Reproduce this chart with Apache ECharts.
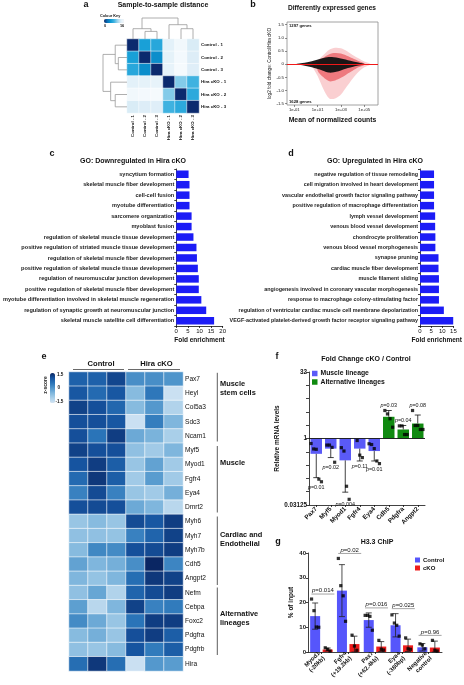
<!DOCTYPE html>
<html><head><meta charset="utf-8">
<script src="https://cdn.jsdelivr.net/npm/echarts@6/dist/echarts.min.js"></script>
<style>html,body{margin:0;padding:0;background:#fff}#c{width:464px;height:685px}</style>
</head><body><div id="c"></div>
<script>
// ---------------- DATA ----------------
// a: sample-to-sample distance
const samples = ['Control - 1','Control - 2','Control - 3','Hira cKO - 1','Hira cKO - 2','Hira cKO - 3'];
const sampleDist = [
  [0, 6.0, 6.8, 14.0, 15.4, 13.2],
  [6.0, 0, 4.6, 14.2, 15.6, 13.4],
  [6.8, 4.6, 0, 14.4, 15.8, 13.6],
  [14.0, 14.2, 14.4, 0, 10.0, 8.0],
  [15.4, 15.6, 15.8, 10.0, 0, 7.0],
  [13.2, 13.4, 13.6, 8.0, 7.0, 0]
];
// dendrogram merges: [nodeA, nodeB, height]; leaves 0-5, merged nodes numbered from 6
const dendroMerges = [[1, 2, 7.6], [0, 6, 10.3], [4, 5, 10.3], [3, 8, 14.3], [7, 9, 21]];
const distKeyTicks = ['0', '16'];

// b: MA plot (x = log10 mean of normalized counts)
const maBlackX = [-0.9, -0.3, 0.5, 1.4, 1.95, 2.4, 2.8, 3.6, 4.5, 5.1];
const maBlackUp = [0, 0.04, 0.11, 0.22, 0.27, 0.26, 0.23, 0.15, 0.06, 0];
const maBlackLo = [0, -0.04, -0.12, -0.24, -0.32, -0.31, -0.27, -0.15, -0.05, 0];
const maRedOuterX = [0.5, 1.0, 1.5, 2.0, 2.5, 3.0, 3.5, 4.0, 4.5, 5.0, 5.5];
const maRedOuterUp = [0.03, 0.15, 0.35, 0.55, 0.62, 0.6, 0.5, 0.35, 0.22, 0.1, 0.02];
const maRedOuterLo = [-0.05, -0.45, -0.95, -1.3, -1.3, -1.15, -0.85, -0.55, -0.3, -0.12, -0.02];
const maRedInnerX = [1.0, 1.5, 2.0, 2.5, 3.0, 3.5, 4.0, 4.5, 5.0];
const maRedInnerUp = [0.08, 0.25, 0.38, 0.42, 0.40, 0.32, 0.22, 0.12, 0.03];
const maRedInnerLo = [-0.25, -0.5, -0.65, -0.62, -0.52, -0.38, -0.25, -0.12, -0.03];
const maXTicks = [-1, 1, 3, 5];
const maYTicks = [-1.5, -1, -0.5, 0, 0.5, 1, 1.5];
const upGenesCount = '1297 genes';
const downGenesCount = '1628 genes';

// c: GO downregulated
const goDownTerms = ['syncytium formation','skeletal muscle fiber development','cell-cell fusion','myotube differentiation','sarcomere organization','myoblast fusion','regulation of skeletal muscle tissue development','positive regulation of striated muscle tissue development','regulation of skeletal muscle fiber development','positive regulation of skeletal muscle tissue development','regulation of neuromuscular junction development','positive regulation of skeletal muscle fiber development','myotube differentiation involved in skeletal muscle regeneration','regulation of synaptic growth at neuromuscular junction','skeletal muscle satellite cell differentiation'];
const goDownFold = [5.3, 5.7, 5.7, 5.7, 6.6, 6.6, 7.4, 8.7, 8.9, 9.3, 9.7, 9.7, 10.8, 12.9, 16.3];

// d: GO upregulated
const goUpTerms = ['negative regulation of tissue remodeling','cell migration involved in heart development','vascular endothelial growth factor signaling pathway','positive regulation of macrophage differentiation','lymph vessel development','venous blood vessel development','chondrocyte proliferation','venous blood vessel morphogenesis','synapse pruning','cardiac muscle fiber development','muscle filament sliding','angiogenesis involved in coronary vascular morphogenesis','response to macrophage colony-stimulating factor','regulation of ventricular cardiac muscle cell membrane depolarization','VEGF-activated platelet-derived growth factor receptor signaling pathway'];
const goUpFold = [6.3, 6.3, 6.3, 6.3, 6.8, 6.8, 6.9, 6.9, 8.3, 8.3, 8.5, 8.5, 8.5, 10.7, 14.9];

// e: z-score heatmap
const heatGenes = ['Pax7','Heyl','Col5a3','Sdc3','Ncam1','Myf5','Myod1','Fgfr4','Eya4','Dmrt2','Myh6','Myh7','Myh7b','Cdh5','Angpt2','Nefm','Cebpa','Foxc2','Pdgfra','Pdgfrb','Hira'];
const heatZ = [
  [0.8, 0.8, 1.15, 0.1, 0.1, 0.0],
  [0.95, 0.65, 0.95, -0.6, 0.45, -1.4],
  [1.2, 1.05, 0.7, -0.6, -0.05, -1.1],
  [1.05, 1.05, 0.95, -1.4, 0.35, -0.5],
  [1.05, 0.5, 1.25, -0.3, -0.45, -1.0],
  [1.2, 1.05, 1.05, -0.7, -0.9, -0.5],
  [1.0, 1.25, 0.85, -0.8, -0.2, -0.9],
  [0.65, 1.3, 0.85, -0.9, -0.1, -0.9],
  [0.3, 1.1, 0.3, -0.8, -0.9, -0.4],
  [1.05, 1.1, 1.05, -0.3, -0.5, -1.2],
  [-0.8, -0.6, -0.8, 1.1, 0.95, 1.25],
  [-0.7, -0.7, -0.75, 0.3, 0.75, 1.2],
  [-0.6, 0.2, 0.15, 1.05, 1.1, 1.25],
  [-0.2, -0.5, -0.4, 0.1, 1.5, 0.25],
  [-0.5, -0.75, -0.5, 0.6, 1.3, 1.2],
  [-0.7, -0.25, -1.1, 0.75, 1.1, 1.25],
  [-0.15, -1.2, -0.5, 1.2, 0.3, 0.4],
  [0.15, -0.3, -0.8, 0.5, 1.25, 1.25],
  [-0.6, -0.4, -0.8, 1.05, 1.25, 0.85],
  [-0.7, -0.8, -0.6, 1.0, 0.4, 0.85],
  [0.6, 1.3, 0.6, -1.4, -0.05, -0.1]
];
const heatGroups = ['Control', 'Hira cKO'];

// f: qPCR fold change cKO / Control
const qpcrGenes = ['Pax7','Myf5','Myod1','Fgfr4','Eya4','Cdh5','Pdgfra','Angpt2'];
const qpcrLineage = ['Muscle','Muscle','Muscle','Muscle','Muscle','Alt','Alt','Alt'];
const qpcrFold = [0.45, 0.59, 0.32, 0.59, 0.52, 3.1, 1.6, 2.18];
const qpcrErrEnd = [0.13, 0.37, 0.061, 0.31, 0.31, 4.3, 1.97, 3.4];
const qpcrPoints = [[0.77, 0.58, 0.57, 0.12, 0.105], [0.71, 0.71, 0.63, 0.29], [0.62, 0.52, 0.083, 0.042], [0.9, 0.42, 0.37], [0.76, 0.73, 0.59, 0.31, 0.27], [4.3, 3.6, 2.8, 1.8], [1.93, 1.93, 1.23, 1.23], [4.3, 1.97, 1.97, 1.6, 1.6]];
const qpcrP = ['0.01', '0.02', '0.004', '0.11', '0.01', '0.03', '0.04', '0.08'];

// g: H3.3 ChIP
const chipRegions = ['Myod1\n(-20kb)', 'Fgfr4\n(+19.2kb)', 'Pax7\n(+62.4kb)', 'Eya4\n(-380bp)', 'Negative\ncontrol'];
const chipControl = [14.5, 24.8, 12.9, 10.8, 1.9];
const chipCKO = [1.0, 3.2, 2.2, 2.7, 1.8];
const chipControlSD = [5.3, 10.5, 2.9, 4.7, 1.5];
const chipCKOSD = [0.6, 3.2, 2.0, 2.5, 2.6];
const chipControlPts = [[21.4, 16.7, 10.1, 10.0], [37.8, 26.8, 22.7, 12.4], [14.8, 14.8, 14.4, 8.8], [15.0, 11.7, 10.8, 6.4], [3.3, 2.8, 1.3]];
const chipCKOPts = [[1.7, 1.1, 0.4], [6.8, 2.4, 0.7], [4.7, 1.1, 0.8], [5.7, 1.3, 1.1], [4.7, 0.7, 0.4]];
const chipP = ['0.014', '0.02', '0.016', '0.025', '0.96'];

// ---------------- CHART ----------------
const FONT = '"Liberation Sans", Arial, sans-serif';
const chart = echarts.init(document.getElementById('c'), null, {renderer: 'canvas', width: 464, height: 685});

const BLUE_GO = '#1c1cf6', BLUE_M = '#5a5af7', GREEN = '#108a10', RED = '#ee1c1c';

// dendrogram geometry derived from merges
const nodePos = samples.map((_, i) => i + 0.5);
const nodeH = samples.map(() => 0);
dendroMerges.forEach(([a, b, h]) => { nodePos.push((nodePos[a] + nodePos[b]) / 2); nodeH.push(h); });
const dendroData = dendroMerges.map(([a, b, h]) => [nodePos[a], nodePos[b], h, nodeH[a], nodeH[b]]);
function dendroSeries(idx, vertical) {
  return {
    type: 'custom', xAxisIndex: idx, yAxisIndex: idx, silent: true, data: dendroData,
    renderItem: (p, api) => {
      const pa = api.value(0), pb = api.value(1), h = api.value(2), ha = api.value(3), hb = api.value(4);
      const c = vertical ? (pos, hh) => api.coord([pos, hh]) : (pos, hh) => api.coord([hh, pos]);
      return {type: 'polyline', shape: {points: [c(pa, ha), c(pa, h), c(pb, h), c(pb, hb)]},
        style: {stroke: '#9a9a9a', lineWidth: 0.8, fill: null}};
    }
  };
}
function bandSeries(xs, up, lo, color, opacity) {
  return {
    type: 'custom', xAxisIndex: 3, yAxisIndex: 3, silent: true, clip: true, data: [[xs[0], 0]],
    renderItem: (p, api) => {
      const pts = [];
      for (let i = 0; i < xs.length; i++) pts.push(api.coord([xs[i], up[i]]));
      for (let i = xs.length - 1; i >= 0; i--) pts.push(api.coord([xs[i], lo[i]]));
      return {type: 'polygon', shape: {points: pts, smooth: 0.3}, style: {fill: color, opacity: opacity}};
    }
  };
}
const txtStyle = (extra) => Object.assign({fontFamily: FONT, fill: '#111', align: 'center', verticalAlign: 'middle',
  textAlign: 'center', textVerticalAlign: 'middle'}, extra);
function T(text, x, y, size, weight, extra) {
  return {type: 'text', x: x, y: y, silent: true, z: 10,
    style: txtStyle(Object.assign({text: text, fontSize: size, fontWeight: weight || 'normal'}, extra || {}))};
}
function L(x1, y1, x2, y2, color, w) {
  return {type: 'line', silent: true, shape: {x1, y1, x2, y2}, style: {stroke: color || '#333', lineWidth: w || 0.8}};
}

const axisBlack = {show: true, onZero: false, lineStyle: {color: '#111', width: 0.8}};
const tickBlack = {show: true, length: 2, lineStyle: {color: '#111', width: 0.8}};

// heat data
const distData = [];
sampleDist.forEach((row, r) => row.forEach((v, c) => distData.push([c, r, v])));
const zData = [];
heatZ.forEach((row, r) => row.forEach((v, c) => zData.push([c, r, v])));

// f helpers
const fMuscle = qpcrFold.map((v, i) => qpcrLineage[i] === 'Muscle' ? v : '-');
const fAlt = qpcrFold.map((v, i) => qpcrLineage[i] === 'Alt' ? v : '-');
const fPts = [];
qpcrPoints.forEach((arr, i) => arr.forEach((v, j) => fPts.push({value: [i, v], symbolOffset: [(j - (arr.length - 1) / 2) * 2.6, 0]})));

// g helpers
const SIDE = 6.25;
const gPts = [];
chipControlPts.forEach((arr, i) => arr.forEach((v, j) => gPts.push({value: [i, v], symbolOffset: [-SIDE + (j - (arr.length - 1) / 2) * 2.4, 0]})));
chipCKOPts.forEach((arr, i) => arr.forEach((v, j) => gPts.push({value: [i, v], symbolOffset: [SIDE + (j - (arr.length - 1) / 2) * 2.4, 0]})));
const gErr = [];
chipControl.forEach((v, i) => gErr.push([i, v, chipControlSD[i], -SIDE]));
chipCKO.forEach((v, i) => gErr.push([i, v, chipCKOSD[i], SIDE]));

const pRich = (size) => ({i: {fontStyle: 'italic', fontSize: size, fontFamily: FONT, fill: '#111'}});

const option = {
  animation: false,
  textStyle: {fontFamily: FONT},
  grid: [
    {left: 127, top: 39, width: 72, height: 74},
    {left: 127, top: 18, width: 72, height: 21},
    {left: 103, top: 39, width: 24, height: 74},
    {left: 287, top: 22, width: 91, height: 83, show: true, borderColor: '#8a8a8a', borderWidth: 0.8},
    {left: 172, top: 169, width: 50.7, height: 157},
    {left: 420, top: 169, width: 37.3, height: 157},
    {left: 69, top: 372, width: 114, height: 299},
    {left: 309, top: 372, width: 116, height: 133},
    {left: 308, top: 553, width: 134, height: 99}
  ],
  xAxis: [
    {gridIndex: 0, type: 'category', data: samples, axisLine: {show: false}, axisTick: {show: false},
      axisLabel: {rotate: 90, fontSize: 4.4, fontWeight: 'bold', margin: 2, color: '#111'}},
    {gridIndex: 1, type: 'value', min: 0, max: 6, show: false},
    {gridIndex: 2, type: 'value', min: 0, max: 21, inverse: true, show: false},
    {gridIndex: 3, type: 'value', min: -1.63, max: 6.18, axisLine: {show: false, onZero: false}, splitLine: {show: false},
      axisTick: {show: true, length: 2, customValues: maXTicks, lineStyle: {color: '#444', width: 0.6}},
      axisLabel: {customValues: maXTicks, fontSize: 4.2, margin: 3, color: '#222',
        formatter: v => '1e' + (v < 0 ? '-' : '+') + String(Math.abs(v)).padStart(2, '0')},
      name: 'Mean of normalized counts', nameLocation: 'middle', nameGap: 12,
      nameTextStyle: {fontSize: 6.8, fontWeight: 'bold', color: '#111'}},
    {gridIndex: 4, type: 'value', min: 0, max: 20, interval: 5, axisLine: axisBlack, axisTick: tickBlack, splitLine: {show: false},
      axisLabel: {fontSize: 6, margin: 2, color: '#111'},
      name: 'Fold enrichment', nameLocation: 'middle', nameGap: 11, nameTextStyle: {fontSize: 6.5, fontWeight: 'bold', color: '#111'}},
    {gridIndex: 5, type: 'value', min: 0, max: 15, interval: 5, axisLine: axisBlack, axisTick: tickBlack, splitLine: {show: false},
      axisLabel: {fontSize: 6, margin: 2, color: '#111'},
      name: 'Fold enrichment', nameLocation: 'middle', nameGap: 11, nameTextStyle: {fontSize: 6.5, fontWeight: 'bold', color: '#111'}},
    {gridIndex: 6, type: 'category', data: [0, 1, 2, 3, 4, 5], show: false},
    {gridIndex: 7, type: 'category', data: qpcrGenes, axisLine: axisBlack,
      axisTick: {show: true, length: 2, alignWithLabel: true, lineStyle: {color: '#111', width: 0.8}},
      axisLabel: {rotate: 45, fontSize: 6.3, fontWeight: 'bold', margin: 3, color: '#111'}},
    {gridIndex: 8, type: 'category', data: chipRegions, axisLine: axisBlack,
      axisTick: {show: true, length: 2, alignWithLabel: true, lineStyle: {color: '#111', width: 0.8}},
      axisLabel: {rotate: 45, fontSize: 6, fontWeight: 'bold', margin: 3, color: '#111', lineHeight: 7}}
  ],
  yAxis: [
    {gridIndex: 0, type: 'category', data: samples, inverse: true, position: 'right', axisLine: {show: false}, axisTick: {show: false},
      axisLabel: {fontSize: 4.4, fontWeight: 'bold', margin: 2, color: '#111'}},
    {gridIndex: 1, type: 'value', min: 0, max: 21, show: false},
    {gridIndex: 2, type: 'value', min: 0, max: 6, inverse: true, show: false},
    {gridIndex: 3, type: 'value', min: -1.55, max: 1.6, axisLine: {show: false, onZero: false}, splitLine: {show: false},
      axisTick: {show: true, length: 2, customValues: maYTicks, lineStyle: {color: '#444', width: 0.6}},
      axisLabel: {customValues: maYTicks, fontSize: 4.4, margin: 3, color: '#222', formatter: v => v === 0 ? '0' : v.toFixed(1)},
      name: 'log2 fold change: Control/Hira cKO', nameLocation: 'middle', nameGap: 11,
      nameTextStyle: {fontSize: 4.6, color: '#111'}},
    {gridIndex: 4, type: 'category', data: goDownTerms, inverse: true, axisLine: axisBlack, axisTick: tickBlack,
      axisLabel: {fontSize: 5.6, fontWeight: 'bold', margin: 2, color: '#222'}},
    {gridIndex: 5, type: 'category', data: goUpTerms, inverse: true, axisLine: axisBlack, axisTick: tickBlack,
      axisLabel: {fontSize: 5.4, fontWeight: 'bold', margin: 2, color: '#222'}},
    {gridIndex: 6, type: 'category', data: heatGenes, inverse: true, position: 'right', axisLine: {show: false}, axisTick: {show: false},
      axisLabel: {fontSize: 6.6, margin: 2, color: '#111'}},
    {gridIndex: 7, type: 'log', logBase: 2, min: 1 / 32, max: 32, interval: 1, axisLine: axisBlack,
      axisTick: {show: true, length: 3, lineStyle: {color: '#111', width: 0.8}}, splitLine: {show: false},
      axisLabel: {fontSize: 6.3, fontWeight: 'bold', margin: 2, color: '#111', showMinLabel: true, showMaxLabel: true,
        formatter: v => Math.abs(v - 32) < 1e-6 ? '32' : Math.abs(v - 1) < 1e-9 ? '1' : Math.abs(v - 0.03125) < 1e-9 ? '0.03125' : ''},
      name: 'Relative mRNA levels', nameLocation: 'middle', nameGap: 15, nameTextStyle: {fontSize: 6.5, fontWeight: 'bold', color: '#111'}},
    {gridIndex: 8, type: 'value', min: 0, max: 40, interval: 10, axisLine: axisBlack, axisTick: tickBlack, splitLine: {show: false},
      axisLabel: {fontSize: 6, fontWeight: 'bold', margin: 2, color: '#111'},
      name: '% of input', nameLocation: 'middle', nameGap: 13, nameTextStyle: {fontSize: 6.5, fontWeight: 'bold', color: '#111'}}
  ],
  visualMap: [
    {type: 'continuous', seriesIndex: 0, min: 0, max: 16, orient: 'horizontal', left: 104, top: 19, itemWidth: 4, itemHeight: 20,
      padding: 0, calculable: false, hoverLink: false, showLabel: false,
      inRange: {color: ['#0b2a6e', '#0a6fb5', '#0c9ad4', '#3fb2e0', '#9ad3ec', '#dcedf7', '#f7fbfe']}},
    {type: 'continuous', seriesIndex: 8, min: -1.5, max: 1.5, orient: 'vertical', left: 50, top: 373, itemWidth: 5, itemHeight: 30,
      padding: 0, calculable: false, hoverLink: false,
      inRange: {color: ['#d2e4f4', '#a9cfe9', '#7fb6dd', '#4f95cb', '#2a74b8', '#1654a0', '#0a2663']}}
  ],
  legend: [
    {left: 312, top: 370, orient: 'vertical', itemWidth: 5.5, itemHeight: 5.5, itemGap: 1.5, icon: 'rect', padding: 0,
      textStyle: {fontSize: 6.8, fontWeight: 'bold', color: '#111', padding: [0, 0, 0, -2]}, data: ['Muscle lineage', 'Alternative lineages']},
    {left: 415, top: 557, orient: 'vertical', itemWidth: 5, itemHeight: 5, itemGap: 2, icon: 'rect', padding: 0,
      textStyle: {fontSize: 6, fontWeight: 'bold', color: '#111', padding: [0, 0, 0, -2]}, data: ['Control', 'cKO']}
  ],
  series: [
    // 0 a heat
    {type: 'heatmap', xAxisIndex: 0, yAxisIndex: 0, data: distData, silent: true, itemStyle: {borderColor: '#fff', borderWidth: 0.5}},
    // 1,2 dendrograms
    dendroSeries(1, true),
    dendroSeries(2, false),
    // 3,4,5 MA plot
    bandSeries(maRedOuterX, maRedOuterUp, maRedOuterLo, '#e8242c', 0.22),
    bandSeries(maRedInnerX, maRedInnerUp, maRedInnerLo, '#e3242b', 0.5),
    Object.assign(bandSeries(maBlackX, maBlackUp, maBlackLo, '#111', 0.95), {
      markLine: {silent: true, symbol: 'none', label: {show: false}, lineStyle: {color: '#f01818', width: 1, type: 'solid'},
        data: [{yAxis: 0}]}}),
    // 6 c
    {type: 'bar', xAxisIndex: 4, yAxisIndex: 4, data: goDownFold, barWidth: 7.5, itemStyle: {color: BLUE_GO}, silent: true},
    // 7 d
    {type: 'bar', xAxisIndex: 5, yAxisIndex: 5, data: goUpFold, barWidth: 7.5, itemStyle: {color: BLUE_GO}, silent: true},
    // 8 e heat
    {type: 'heatmap', xAxisIndex: 6, yAxisIndex: 6, data: zData, silent: true, itemStyle: {borderColor: '#fff', borderWidth: 0.6}},
    // 9,10 f bars
    {name: 'Muscle lineage', type: 'bar', xAxisIndex: 7, yAxisIndex: 7, data: fMuscle, barWidth: 11.5, barGap: '-100%',
      itemStyle: {color: BLUE_M}, silent: true,
      markLine: {silent: true, symbol: 'none', label: {show: false}, lineStyle: {color: '#111', width: 0.9, type: 'solid'}, data: [{yAxis: 1}]}},
    {name: 'Alternative lineages', type: 'bar', xAxisIndex: 7, yAxisIndex: 7, data: fAlt, barWidth: 11.5, barGap: '-100%',
      itemStyle: {color: GREEN}, silent: true},
    // 11 f error bars
    {type: 'custom', xAxisIndex: 7, yAxisIndex: 7, silent: true, z: 3,
      data: qpcrFold.map((v, i) => [i, v, qpcrErrEnd[i]]),
      renderItem: (p, api) => {
        const a = api.coord([api.value(0), api.value(1)]), b = api.coord([api.value(0), api.value(2)]);
        return {type: 'group', children: [
          {type: 'line', shape: {x1: a[0], y1: a[1], x2: b[0], y2: b[1]}, style: {stroke: '#111', lineWidth: 0.8}},
          {type: 'line', shape: {x1: b[0] - 3, y1: b[1], x2: b[0] + 3, y2: b[1]}, style: {stroke: '#111', lineWidth: 0.8}}]};
      }},
    // 12 f points
    {type: 'scatter', xAxisIndex: 7, yAxisIndex: 7, data: fPts, symbol: 'rect', symbolSize: 3.2, itemStyle: {color: '#000'}, silent: true, z: 4},
    // 13 f p-values
    {type: 'custom', xAxisIndex: 7, yAxisIndex: 7, silent: true, z: 5,
      data: qpcrFold.map((v, i) => {
        const all = qpcrPoints[i].concat([qpcrErrEnd[i]]);
        return [i, v < 1 ? Math.min.apply(null, all) : Math.max.apply(null, all), v < 1 ? 1 : 0];
      }),
      renderItem: (p, api) => {
        const c = api.coord([api.value(0), api.value(1)]);
        const down = api.value(2) === 1;
        return {type: 'text', x: c[0], y: c[1] + (down ? 5.5 : -5), style: txtStyle({
          text: '{i|p}=' + qpcrP[p.dataIndex], fontSize: 5.4, rich: pRich(5.4)})};
      }},
    // 14,15 g bars
    {name: 'Control', type: 'bar', xAxisIndex: 8, yAxisIndex: 8, data: chipControl, barWidth: 10, barGap: '25%', itemStyle: {color: '#5656fb'}, silent: true},
    {name: 'cKO', type: 'bar', xAxisIndex: 8, yAxisIndex: 8, data: chipCKO, barWidth: 10, barGap: '25%', itemStyle: {color: RED}, silent: true},
    // 16 g error bars
    {type: 'custom', xAxisIndex: 8, yAxisIndex: 8, silent: true, z: 3, data: gErr,
      renderItem: (p, api) => {
        const i = api.value(0), m = api.value(1), sd = api.value(2), off = api.value(3);
        const t = api.coord([i, m + sd]), b = api.coord([i, Math.max(0, m - sd)]);
        const x = t[0] + off;
        return {type: 'group', children: [
          {type: 'line', shape: {x1: x, y1: t[1], x2: x, y2: b[1]}, style: {stroke: '#222', lineWidth: 0.8}},
          {type: 'line', shape: {x1: x - 3, y1: t[1], x2: x + 3, y2: t[1]}, style: {stroke: '#222', lineWidth: 0.8}},
          {type: 'line', shape: {x1: x - 3, y1: b[1], x2: x + 3, y2: b[1]}, style: {stroke: '#222', lineWidth: 0.8}}]};
      }},
    // 17 g points
    {type: 'scatter', xAxisIndex: 8, yAxisIndex: 8, data: gPts, symbol: 'rect', symbolSize: 3.2, itemStyle: {color: '#000'}, silent: true, z: 4},
    // 18 g p-value brackets
    {type: 'custom', xAxisIndex: 8, yAxisIndex: 8, silent: true, z: 5,
      data: chipControl.map((v, i) => [i, Math.max(v + chipControlSD[i], chipCKO[i] + chipCKOSD[i],
        Math.max.apply(null, chipControlPts[i]), Math.max.apply(null, chipCKOPts[i]))]),
      renderItem: (p, api) => {
        const c = api.coord([api.value(0), api.value(1)]);
        const y = c[1] - 5;
        return {type: 'group', children: [
          {type: 'line', shape: {x1: c[0] - 10, y1: y, x2: c[0] + 13, y2: y}, style: {stroke: '#9a9a9a', lineWidth: 0.9}},
          {type: 'text', x: c[0] + 1.5, y: y - 3.5, style: txtStyle({text: '{i|p}=' + chipP[p.dataIndex], fontSize: 6, rich: pRich(6)})}]};
      }}
  ],
  graphic: [
    // panel letters
    T('a', 86, 5, 9, 'bold'), T('b', 253, 5, 9, 'bold'), T('c', 52, 154, 9, 'bold'), T('d', 291, 154, 9, 'bold'),
    T('e', 44, 357, 9, 'bold'), T('f', 277, 357, 9, 'bold'), T('g', 278, 542, 9, 'bold'),
    // titles
    T('Sample-to-sample distance', 163, 5.5, 7, 'bold'),
    T('Differently expressed genes', 332, 8, 6.6, 'bold'),
    T('GO: Downregulated in Hira cKO', 133, 161, 7, 'bold'),
    T('GO: Upregulated in Hira cKO', 375, 161, 7, 'bold'),
    T('Fold Change cKO / Control', 366, 359.5, 7, 'bold'),
    T('H3.3 ChIP', 377, 542, 7, 'bold'),
    // a colour key
    T('Colour Key', 100, 15.5, 3.8, 'bold', {align: 'left', textAlign: 'left'}),
    T(distKeyTicks[0], 105, 25.8, 3.8, 'bold'), T(distKeyTicks[1], 122, 25.8, 3.8, 'bold'),
    // b gene counts
    T(upGenesCount, 289, 26, 4.2, 'bold', {align: 'left', textAlign: 'left'}),
    T(downGenesCount, 289, 101.5, 4.2, 'bold', {align: 'left', textAlign: 'left'}),
    // e headers
    T(heatGroups[0], 101, 364, 7.6, 'bold'), T(heatGroups[1], 156.5, 364, 7.6, 'bold'),
    L(73, 369.5, 124, 369.5, '#444', 0.8), L(128, 369.5, 180, 369.5, '#444', 0.8),
    // e colour scale labels
    T('1.5', 57, 375, 4.6, 'bold', {align: 'left', textAlign: 'left'}),
    T('0', 57.5, 388, 4.6, 'bold', {align: 'left', textAlign: 'left'}),
    T('-1.5', 55.5, 402, 4.6, 'bold', {align: 'left', textAlign: 'left'}),
    Object.assign(T('z-score', 45.5, 385, 5, 'bold'), {rotation: Math.PI / 2}),
    // e group brackets
    L(217.3, 372.8, 217.3, 441.5, '#333', 0.8), L(217.3, 446, 217.3, 512.5, '#333', 0.8),
    L(217.3, 516.5, 217.3, 585, '#333', 0.8), L(217.3, 587.5, 217.3, 655, '#333', 0.8),
    T('Muscle\nstem cells', 220, 388.5, 7.4, 'bold', {align: 'left', textAlign: 'left', lineHeight: 9}),
    T('Muscle', 220, 462.5, 7.4, 'bold', {align: 'left', textAlign: 'left'}),
    T('Cardiac and\nEndothelial', 220, 539, 7.4, 'bold', {align: 'left', textAlign: 'left', lineHeight: 9}),
    T('Alternative\nlineages', 220, 618, 7.4, 'bold', {align: 'left', textAlign: 'left', lineHeight: 9})
  ]
};
chart.setOption(option);
</script>
</body></html>
